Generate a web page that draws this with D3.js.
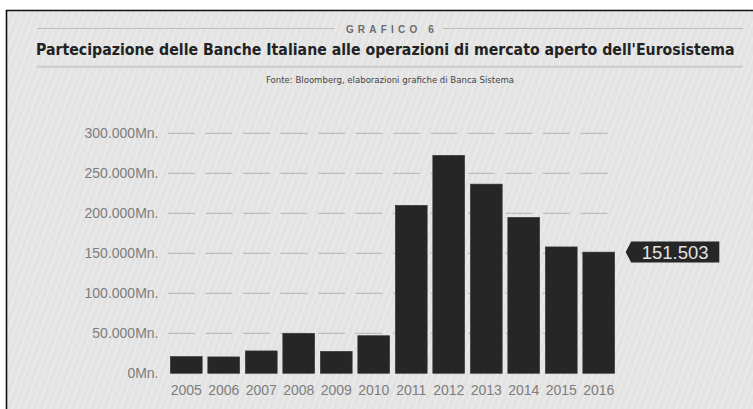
<!DOCTYPE html>
<html>
<head>
<meta charset="utf-8">
<script src="https://cdn.jsdelivr.net/npm/d3@7"></script>
<style>
  html, body { margin: 0; padding: 0; background: #ffffff; }
  svg { display: block; }
</style>
</head>
<body>
<svg id="chart" width="753" height="409"></svg>
<script>
// Eurosystem open market operations: Italian banks' participation (millions of euro)
const years = ["2005", "2006", "2007", "2008", "2009", "2010",
               "2011", "2012", "2013", "2014", "2015", "2016"];
const amounts = [21000, 20500, 28000, 50000, 27500, 47000,
                 210000, 272500, 236500, 195000, 158000, 151503];
const yTicks = [0, 50000, 100000, 150000, 200000, 250000, 300000];
const highlightIndex = 11;

const kicker = "GRAFICO 6";
const title = "Partecipazione delle Banche Italiane alle operazioni di mercato aperto dell'Eurosistema";
const source = "Fonte: Bloomberg, elaborazioni grafiche di Banca Sistema";

const it = d3.formatLocale({ decimal: ",", thousands: ".", grouping: [3], currency: ["€", ""] });
const fmt = it.format(",d");

const svg = d3.select("#chart");
const W = 753, H = 409;
const narrow = "'Liberation Sans Narrow', 'DejaVu Sans Condensed', 'Liberation Sans', sans-serif";

// fit a text element to a target width by scaling its font size
function fitWidth(sel, target, maxSize) {
  sel.attr("font-size", maxSize);
  const w = sel.node().getComputedTextLength();
  if (w > target) sel.attr("font-size", maxSize * target / w);
}

// striped paper background
const defs = svg.append("defs");
const pat = defs.append("pattern")
  .attr("id", "stripes")
  .attr("patternUnits", "userSpaceOnUse")
  .attr("width", 6).attr("height", 6)
  .attr("patternTransform", "rotate(20)");
pat.append("rect").attr("width", 6).attr("height", 6).attr("fill", "#e3e3e3");
pat.append("line").attr("x1", 1).attr("y1", 0).attr("x2", 1).attr("y2", 6)
  .attr("stroke", "#ededed").attr("stroke-width", 1.2);

svg.append("rect").attr("x", 6).attr("y", 10).attr("width", W - 6).attr("height", H - 10)
  .attr("fill", "url(#stripes)");
// frame (top and left edges)
svg.append("path").attr("d", `M6.5,${H} V10.5 H${W}`)
  .attr("fill", "none").attr("stroke", "#111").attr("stroke-width", 1.6);

// header
const hx0 = 37, hx1 = 743, hcx = 390;
svg.append("line").attr("x1", hx0).attr("x2", 335).attr("y1", 28.5).attr("y2", 28.5)
  .attr("stroke", "#bdbdbd").attr("stroke-width", 1);
svg.append("line").attr("x1", 443).attr("x2", hx1).attr("y1", 28.5).attr("y2", 28.5)
  .attr("stroke", "#bdbdbd").attr("stroke-width", 1);
svg.append("text").attr("x", hcx + 2).attr("y", 33)
  .attr("text-anchor", "middle")
  .attr("font-family", "'Liberation Sans', Arial, sans-serif")
  .attr("font-weight", "bold").attr("font-size", 10)
  .attr("letter-spacing", "4.2px")
  .attr("fill", "#6c6c6c").text(kicker);

const titleText = svg.append("text").attr("x", 36).attr("y", 55)
  .attr("font-family", narrow)
  .attr("font-weight", "bold")
  .attr("fill", "#222").text(title);
fitWidth(titleText, 699, 19);

svg.append("line").attr("x1", hx0).attr("x2", hx1).attr("y1", 66.7).attr("y2", 66.7)
  .attr("stroke", "#cacaca").attr("stroke-width", 2);

const sourceText = svg.append("text").attr("x", 390).attr("y", 83.3)
  .attr("text-anchor", "middle")
  .attr("font-family", narrow)
  .attr("fill", "#444").text(source);
fitWidth(sourceText, 273, 9.5);

// scales
const x = d3.scaleBand().domain(years).range([167.5, 617.5])
  .paddingInner(0.15).paddingOuter(0.075);
const y = d3.scaleLinear().domain([0, 300000]).range([373.3, 133.3]);

// dashed gridlines
const grid = svg.append("g");
grid.selectAll("line").data(yTicks.filter(d => d > 0)).join("line")
  .attr("x1", 168).attr("x2", 618)
  .attr("y1", d => y(d)).attr("y2", d => y(d))
  .attr("stroke", "#b3b3b3").attr("stroke-width", 1)
  .attr("stroke-dasharray", "27,10.5");

// y axis labels
const yAxis = d3.axisLeft(y).tickValues(yTicks).tickSize(0).tickPadding(0)
  .tickFormat(d => fmt(d) + "Mn.");
const gy = svg.append("g").attr("transform", "translate(158.5,0)").call(yAxis);
gy.select(".domain").remove();
gy.selectAll("text")
  .attr("font-family", "'Liberation Sans', Arial, sans-serif")
  .attr("font-size", 14).attr("fill", "#7d7d7d");

// bars
svg.append("g").selectAll("rect").data(years).join("rect")
  .attr("x", d => x(d))
  .attr("width", x.bandwidth())
  .attr("y", (d, i) => y(amounts[i]))
  .attr("height", (d, i) => y(0) - y(amounts[i]))
  .attr("fill", "#262626")
  .attr("stroke", "#3a3a3a").attr("stroke-width", 0.6);

// x axis labels
const xAxis = d3.axisBottom(x).tickSize(0).tickPadding(0);
const gx = svg.append("g").attr("transform", "translate(0,385)").call(xAxis);
gx.select(".domain").remove();
gx.selectAll("text")
  .attr("font-family", "'Liberation Sans', Arial, sans-serif")
  .attr("font-size", 14).attr("fill", "#7d7d7d");

// value callout for the latest year
const cy = y(amounts[highlightIndex]);
const cx0 = 625.7, cw = 93.6, ch = 21;
svg.append("path")
  .attr("d", `M${cx0},${cy} L${cx0 + 5.5},${cy - ch / 2} H${cx0 + cw} V${cy + ch / 2} H${cx0 + 5.5} Z`)
  .attr("fill", "#262626");
svg.append("text").attr("x", cx0 + 49.5).attr("y", cy + 6.6)
  .attr("text-anchor", "middle")
  .attr("font-family", "'Liberation Sans', Arial, sans-serif")
  .attr("font-size", 18.5).attr("fill", "#e2e2e2")
  .text(fmt(amounts[highlightIndex]));
</script>
</body>
</html>
